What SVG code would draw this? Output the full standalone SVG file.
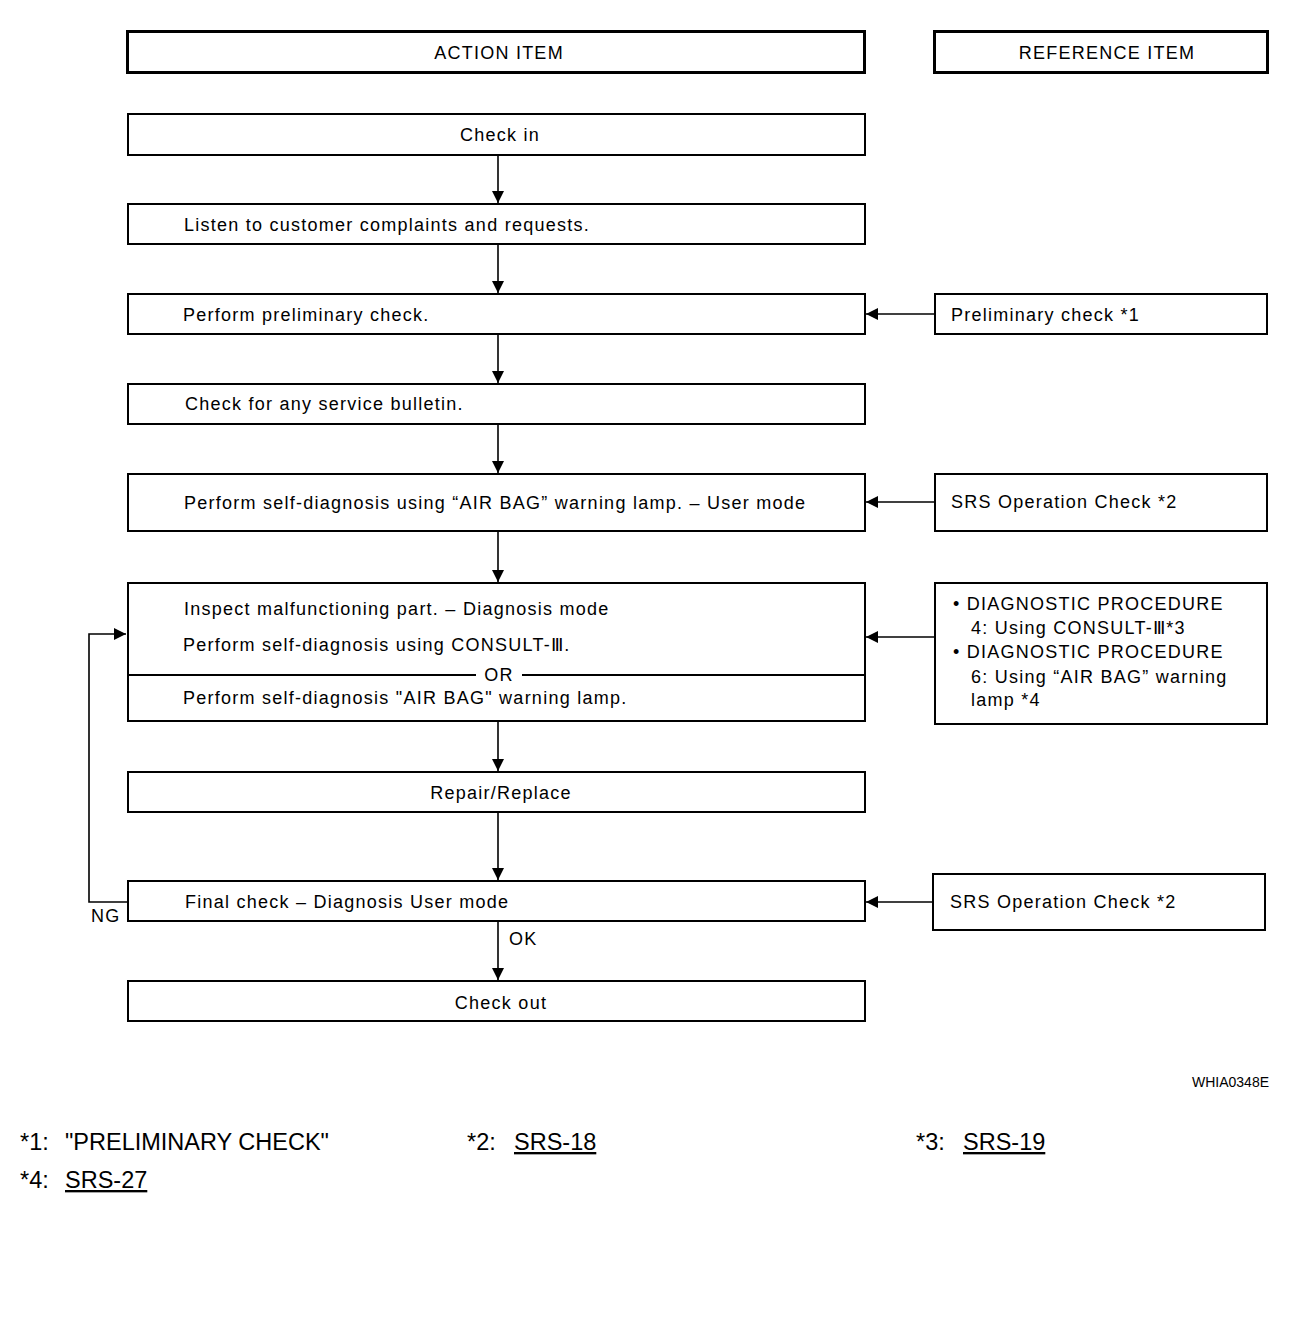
<svg xmlns="http://www.w3.org/2000/svg" width="1312" height="1342" viewBox="0 0 1312 1342">
<style>
text{font-family:"Liberation Sans",Arial,sans-serif;fill:#000}
.t{font-size:18px;letter-spacing:1.25px}
.c{text-anchor:middle}
.hd{fill:#fff;stroke:#000;stroke-width:3}
.bx{fill:#fff;stroke:#000;stroke-width:2}
.ln{fill:none;stroke:#000;stroke-width:1.6}
.fn{font-size:23.5px}
.u{text-decoration:underline}
</style>
<defs>
<marker id="ah" viewBox="0 0 10 10" refX="10" refY="5" markerWidth="12" markerHeight="12" markerUnits="userSpaceOnUse" orient="auto">
<path d="M0,0 L10,5 L0,10 z" fill="#000"/>
</marker>
</defs>
<rect width="1312" height="1342" fill="#fff"/>
<g id="connectors">
<line class="ln" x1="498" y1="155" x2="498" y2="203" marker-end="url(#ah)"/>
<line class="ln" x1="498" y1="244" x2="498" y2="293" marker-end="url(#ah)"/>
<line class="ln" x1="498" y1="334" x2="498" y2="383" marker-end="url(#ah)"/>
<line class="ln" x1="498" y1="424" x2="498" y2="473" marker-end="url(#ah)"/>
<line class="ln" x1="498" y1="531" x2="498" y2="582" marker-end="url(#ah)"/>
<line class="ln" x1="498" y1="721" x2="498" y2="771" marker-end="url(#ah)"/>
<line class="ln" x1="498" y1="812" x2="498" y2="880" marker-end="url(#ah)"/>
<line class="ln" x1="498" y1="921" x2="498" y2="980" marker-end="url(#ah)"/>
<line class="ln" x1="934" y1="314" x2="866" y2="314" marker-end="url(#ah)"/>
<line class="ln" x1="934" y1="502" x2="866" y2="502" marker-end="url(#ah)"/>
<line class="ln" x1="934" y1="637" x2="866" y2="637" marker-end="url(#ah)"/>
<line class="ln" x1="932" y1="902" x2="866" y2="902" marker-end="url(#ah)"/>
<polyline class="ln" points="127,902 89,902 89,634 126,634" marker-end="url(#ah)"/>
<text class="t" x="91" y="922">NG</text>
<text class="t" x="509" y="945">OK</text>
</g>
<g id="header-action"><rect class="hd" x="127.5" y="31.5" width="737" height="41"/><text class="t c" x="499" y="59">ACTION ITEM</text></g>
<g id="header-reference"><rect class="hd" x="934.5" y="31.5" width="333" height="41"/><text class="t c" x="1107" y="59">REFERENCE ITEM</text></g>
<g id="check-in"><rect class="bx" x="128" y="114" width="737" height="41"/><text class="t c" x="500" y="141">Check in</text></g>
<g id="listen"><rect class="bx" x="128" y="204" width="737" height="40"/><text class="t" x="184" y="231">Listen to customer complaints and requests.</text></g>
<g id="preliminary"><rect class="bx" x="128" y="294" width="737" height="40"/><text class="t" x="183" y="321">Perform preliminary check.</text></g>
<g id="bulletin"><rect class="bx" x="128" y="384" width="737" height="40"/><text class="t" x="185" y="410">Check for any service bulletin.</text></g>
<g id="self-diag-user"><rect class="bx" x="128" y="474" width="737" height="57"/><text class="t" x="184" y="509">Perform self-diagnosis using “AIR BAG” warning lamp. – User mode</text></g>
<g id="inspect"><rect class="bx" x="128" y="583" width="737" height="138"/>
<text class="t" x="184" y="615">Inspect malfunctioning part. – Diagnosis mode</text>
<text class="t" x="183" y="651">Perform self-diagnosis using CONSULT-Ⅲ.</text>
<line x1="128" y1="675" x2="476" y2="675" stroke="#000" stroke-width="2"/>
<line x1="522" y1="675" x2="865" y2="675" stroke="#000" stroke-width="2"/>
<text class="t c" x="499" y="681">OR</text>
<text class="t" x="183" y="704">Perform self-diagnosis "AIR BAG" warning lamp.</text>
</g>
<g id="repair"><rect class="bx" x="128" y="772" width="737" height="40"/><text class="t c" x="501" y="799">Repair/Replace</text></g>
<g id="final-check"><rect class="bx" x="128" y="881" width="737" height="40"/><text class="t" x="185" y="908">Final check – Diagnosis User mode</text></g>
<g id="check-out"><rect class="bx" x="128" y="981" width="737" height="40"/><text class="t c" x="501" y="1009">Check out</text></g>
<g id="ref-preliminary"><rect class="bx" x="935" y="294" width="332" height="40"/><text class="t" x="951" y="321">Preliminary check *1</text></g>
<g id="ref-srs1"><rect class="bx" x="935" y="474" width="332" height="57"/><text class="t" x="951" y="508">SRS Operation Check *2</text></g>
<g id="ref-diag"><rect class="bx" x="935" y="583" width="332" height="141"/>
<text class="t" x="953" y="610">• DIAGNOSTIC PROCEDURE</text>
<text class="t" x="971" y="634">4: Using CONSULT-Ⅲ*3</text>
<text class="t" x="953" y="658">• DIAGNOSTIC PROCEDURE</text>
<text class="t" x="971" y="683">6: Using “AIR BAG” warning</text>
<text class="t" x="971" y="706">lamp *4</text>
</g>
<g id="ref-srs2"><rect class="bx" x="933" y="874" width="332" height="56"/><text class="t" x="950" y="908">SRS Operation Check *2</text></g>
<text x="1192" y="1087" font-size="14" style="font-family:'Liberation Sans',Arial,sans-serif">WHIA0348E</text>
<g id="footnotes">
<text class="fn" x="20" y="1150">*1:</text><text class="fn" x="65" y="1150">"PRELIMINARY CHECK"</text>
<text class="fn" x="467" y="1150">*2:</text><text class="fn u" x="514" y="1150">SRS-18</text>
<text class="fn" x="916" y="1150">*3:</text><text class="fn u" x="963" y="1150">SRS-19</text>
<text class="fn" x="20" y="1188">*4:</text><text class="fn u" x="65" y="1188">SRS-27</text>
</g>
</svg>
